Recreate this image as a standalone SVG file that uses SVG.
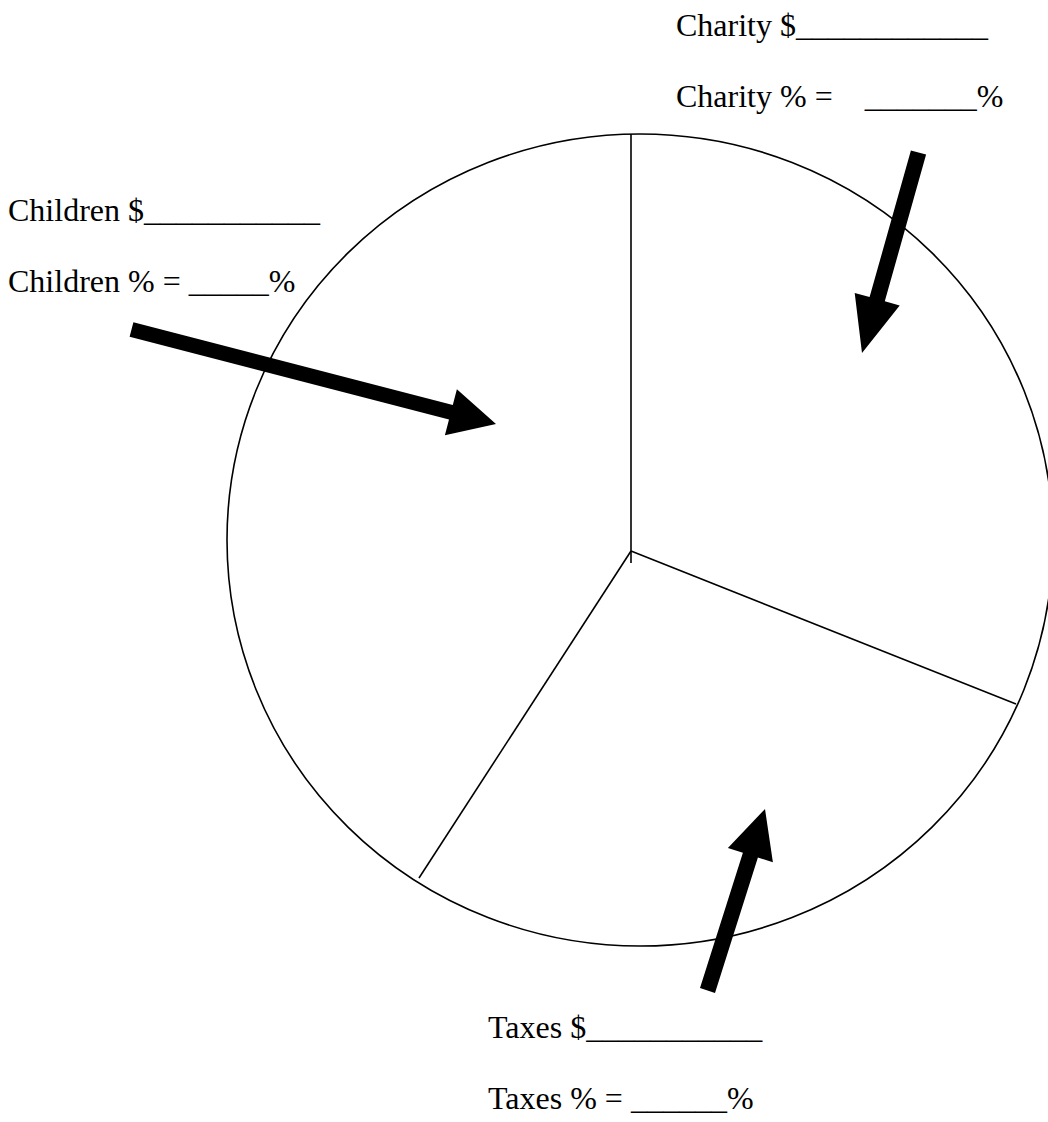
<svg xmlns="http://www.w3.org/2000/svg" width="1048" height="1122" viewBox="0 0 1048 1122">
<style>
.t{font-family:"Liberation Serif","Times New Roman",serif;font-size:32px;fill:#000;white-space:pre}
.ln{fill:none;stroke:#000;stroke-width:1.6}
.ar{fill:#000;stroke:none}
</style>
<rect width="1048" height="1122" fill="#fff"/>
<g id="pie">
<ellipse class="ln" cx="640" cy="540" rx="413" ry="406"/>
<line class="ln" x1="631" y1="134" x2="631" y2="563"/>
<line class="ln" x1="631" y1="551" x2="1016" y2="704"/>
<line class="ln" x1="631" y1="551" x2="419" y2="878"/>
</g>
<g id="charity">
<text class="t" x="676" y="36">Charity $____________</text>
<text class="t" x="676" y="107">Charity % =    _______%</text>
</g>
<g id="children">
<text class="t" x="8" y="221">Children $___________</text>
<text class="t" x="8" y="292">Children % = _____%</text>
</g>
<g id="taxes">
<text class="t" x="488" y="1038">Taxes $___________</text>
<text class="t" x="488" y="1109">Taxes % = ______%</text>
</g>
<g id="connectors">
<polygon class="ar" points="133.4,322.2 452.8,405 456.9,389.3 496,424 444.9,435.3 449,419.6 129.6,336.8"/>
<polygon class="ar" points="910.9,150.4 869.6,297.1 854.7,292.9 862,353 899.7,305.5 884.8,301.3 926.1,154.6"/>
<polygon class="ar" points="700,988.1 742.9,852.7 727.9,848 765,809 772.9,862.2 757.9,857.5 715,992.9"/>
</g>
</svg>
